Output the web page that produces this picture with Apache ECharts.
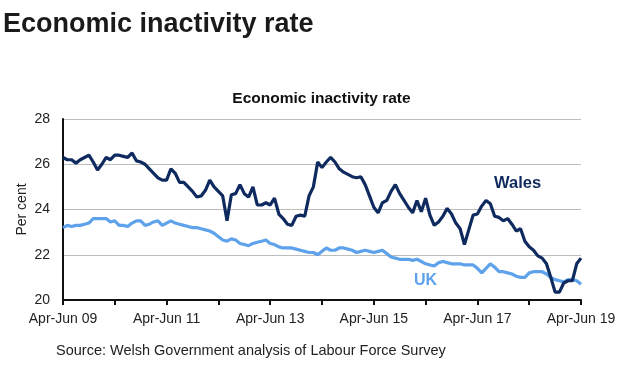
<!DOCTYPE html>
<html>
<head>
<meta charset="utf-8">
<script src="https://cdn.jsdelivr.net/npm/echarts@6/dist/echarts.min.js"></script>
<style>
  html, body { margin: 0; padding: 0; background: #fff; }
  #chart { width: 643px; height: 376px; }
</style>
</head>
<body>
<div id="chart"></div>
<script>
// rolling quarters, Apr-Jun 09 .. Apr-Jun 19
var quarterNames = ['Jan-Mar', 'Feb-Apr', 'Mar-May', 'Apr-Jun', 'May-Jul', 'Jun-Aug',
    'Jul-Sep', 'Aug-Oct', 'Sep-Nov', 'Oct-Dec', 'Nov-Jan', 'Dec-Feb'];
var categories = [];
for (var k = 0; k < 121; k++) {
    var m = 3 + k;
    var yr = 9 + Math.floor(m / 12);
    categories.push(quarterNames[m % 12] + ' ' + (yr < 10 ? '0' + yr : yr));
}

var wales = [
    26.3, 26.2, 26.2, 26.05, 26.2, 26.3, 26.4, 26.1, 25.75, 26.0,
    26.3, 26.2, 26.4, 26.4, 26.35, 26.3, 26.5, 26.15, 26.1, 26.0,
    25.8, 25.6, 25.4, 25.3, 25.3, 25.8, 25.6, 25.2, 25.2, 25.0,
    24.8, 24.55, 24.6, 24.85, 25.3, 25.0, 24.8, 24.6, 23.5, 24.65,
    24.7, 25.1, 24.7, 24.55, 25.0, 24.2, 24.2, 24.3, 24.2, 24.5,
    23.8, 23.6, 23.35, 23.3, 23.7, 23.75, 23.7, 24.6, 25.0, 26.1,
    25.85, 26.1, 26.3, 26.1, 25.8, 25.65, 25.55, 25.45, 25.4, 25.45,
    25.1, 24.6, 24.1, 23.85, 24.3, 24.4, 24.8, 25.1, 24.7, 24.4,
    24.1, 23.85, 24.4, 23.9, 24.5, 23.75, 23.3, 23.45, 23.7, 24.05,
    23.8, 23.4, 23.15, 22.45, 23.1, 23.75, 23.8, 24.15, 24.4, 24.25,
    23.7, 23.65, 23.5, 23.6, 23.35, 23.05, 23.15, 22.6, 22.35, 22.2,
    21.95, 21.85, 21.6, 21.0, 20.35, 20.35, 20.75, 20.85, 20.85, 21.6,
    21.85
];

var uk = [
    23.2, 23.3, 23.25, 23.3, 23.3, 23.35, 23.4, 23.6, 23.6, 23.6,
    23.6, 23.45, 23.5, 23.3, 23.3, 23.25, 23.4, 23.5, 23.5, 23.3,
    23.35, 23.45, 23.5, 23.3, 23.4, 23.5, 23.4, 23.35, 23.3, 23.25,
    23.2, 23.2, 23.15, 23.1, 23.05, 22.95, 22.8, 22.65, 22.6, 22.7,
    22.65, 22.5, 22.45, 22.4, 22.5, 22.55, 22.6, 22.65, 22.5, 22.45,
    22.35, 22.3, 22.3, 22.3, 22.25, 22.2, 22.15, 22.1, 22.1, 22.0,
    22.15, 22.3, 22.2, 22.2, 22.3, 22.3, 22.25, 22.2, 22.1, 22.15,
    22.2, 22.15, 22.1, 22.15, 22.2, 22.05, 21.9, 21.85, 21.8, 21.8,
    21.8, 21.75, 21.8, 21.7, 21.6, 21.55, 21.5, 21.65, 21.7, 21.65,
    21.6, 21.6, 21.6, 21.55, 21.55, 21.55, 21.4, 21.2, 21.4, 21.6,
    21.45, 21.25, 21.25, 21.2, 21.15, 21.05, 21.0, 21.0, 21.2, 21.25,
    21.25, 21.25, 21.15, 21.0, 20.9, 20.85, 20.8, 20.9, 20.9, 20.85,
    20.7
];

var yTicks = [20, 22, 24, 26, 28];

var walesColor = '#0e2a5e';
var ukColor = '#5fa2ec';
var font = 'Liberation Sans, Arial, sans-serif';

var chart = echarts.init(document.getElementById('chart'));
var option = {
    animation: false,
    textStyle: { fontFamily: font },
    title: [{
        text: 'Economic inactivity rate',
        left: -2, top: 6,
        textStyle: { fontSize: 27, fontWeight: 'bold', color: '#1a1a1a', fontFamily: font }
    }, {
        text: 'Economic inactivity rate',
        left: 'center', top: 86,
        textStyle: { fontSize: 15.5, fontWeight: 'bold', color: '#111', fontFamily: font }
    }],
    grid: { left: 63, right: 62, top: 119, bottom: 76 },
    xAxis: {
        type: 'category',
        boundaryGap: false,
        data: categories,
        axisLine: { lineStyle: { color: '#111', width: 2 } },
        axisTick: { interval: 11, length: 5, lineStyle: { color: '#111', width: 2 } },
        axisLabel: {
            interval: 23, color: '#222', fontSize: 14, margin: 12,
            fontFamily: font
        },
        splitLine: { show: false }
    },
    yAxis: {
        type: 'value',
        min: yTicks[0], max: yTicks[yTicks.length - 1], interval: 2,
        name: 'Per cent',
        nameLocation: 'middle',
        nameGap: 34,
        nameMoveOverlap: false,
        nameTextStyle: { fontSize: 14, color: '#222', fontFamily: font },
        axisLine: { show: true, lineStyle: { color: '#111', width: 2 } },
        axisTick: { show: false },
        axisLabel: { color: '#222', fontSize: 14, margin: 13, fontFamily: font },
        splitLine: { lineStyle: { color: '#bdbdbd', width: 1 } }
    },
    series: [{
        name: 'UK',
        type: 'line',
        data: uk,
        symbol: 'none',
        lineStyle: { color: ukColor, width: 3.2 },
        z: 2
    }, {
        name: 'Wales',
        type: 'line',
        data: wales,
        symbol: 'none',
        lineStyle: { color: walesColor, width: 3.2 },
        z: 3
    }],
    graphic: [{
        type: 'text', left: 494, top: 175,
        style: { text: 'Wales', fill: walesColor, font: 'bold 16.5px ' + font }
    }, {
        type: 'text', left: 414, top: 273,
        style: { text: 'UK', fill: ukColor, font: 'bold 16px ' + font }
    }, {
        type: 'text', left: 56, top: 343,
        style: { text: 'Source: Welsh Government analysis of Labour Force Survey', fill: '#222', font: '14.5px ' + font }
    }]
};
chart.setOption(option);
</script>
</body>
</html>
